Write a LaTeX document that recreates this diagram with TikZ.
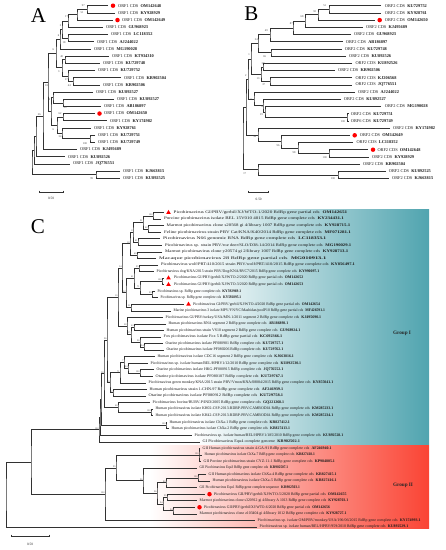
\documentclass[tikz,border=0pt]{standalone}
\usepackage{fontspec}
\setmainfont{Liberation Serif}
\usetikzlibrary{calc,shapes.geometric}
\definecolor{tealG}{RGB}{80,164,175}
\definecolor{redG}{RGB}{250,68,52}
\definecolor{trc}{RGB}{50,50,50}
\newcommand\accn[1]{\hspace{2.2pt}\textbf{#1}}
\newcommand\nd[4]{\path let \p1=(#3), \p2=(#4) in coordinate (#1) at (#2pt,{(\y1+\y2)*0.5});}
\newcommand\cl[4]{\nd{#1}{#2}{#3}{#4}\draw[tree] (#3) -| (#1) |- (#4);}
\newcommand\rA[1]{5.7+(#1-1)*7.19}
\newcommand\rB[1]{5.7+(#1-1)*7.2}
\newcommand\rC[1]{212.5+(#1-1)*6.55}
\newcommand\lfA[5]{\coordinate (#1) at (#3,{\rA{#2}});\node[labA] (t#1) at (#4,{\rA{#2}}) {#5};}
\newcommand\lfB[5]{\coordinate (#1) at (#3,{\rB{#2}});\node[labA] (t#1) at (#4,{\rB{#2}}) {#5};}
\newcommand\lfC[6]{\coordinate (#1) at (#3,{\rC{#2}});\node[labC] (t#1) at (#4,{\rC{#2}}) {\pgfmathsetmacro\wdC{#5-#4}\resizebox{\wdC pt}{\height}{#6}};}
\newcommand\bs[4]{\node[bsA] (#1) at (#2,#3) {#4};}
\newcommand\bsc[2]{\node[bsC] (b#1) at (#1) {#2};}
\newcommand\sbr[6]{\coordinate (#1l) at (#2,#4); \coordinate (#1r) at (#3,#4);
  \draw[sb] (#1l) -- (#1r);
  \draw[sb] ($(#1l)+(0,-1.3)$) -- ($(#1l)+(0,1.3)$);
  \draw[sb] ($(#1r)+(0,-1.3)$) -- ($(#1r)+(0,1.3)$);
  \node[sbl] (#1t) at (#5,#6) {0.50};}
\begin{document}
\begin{tikzpicture}[x=1pt,y=-1pt,
  tree/.style={draw=trc, line width=0.5pt},
  labA/.style={anchor=west, inner sep=0pt, font=\fontsize{4.35}{4.8}\selectfont, text=black!90},
  labC/.style={anchor=west, inner sep=0pt, font=\fontsize{3.9}{4.2}\selectfont, text=black!90},
  bsA/.style={inner sep=0pt, font=\fontsize{2.8}{3}\selectfont, text=black!75},
  bsC/.style={anchor=south east, inner sep=0.3pt, font=\fontsize{2.4}{2.6}\selectfont, text=black!75},
  dotm/.style={circle, fill=red, draw=none, inner sep=0pt, minimum size=4.5pt},
  trim/.style={regular polygon, regular polygon sides=3, fill=red, draw=none, inner sep=0pt, minimum size=5.2pt},
  sb/.style={draw=trc, line width=0.5pt},
  sbl/.style={inner sep=0pt, font=\fontsize{3.4}{4}\selectfont, text=black!85},
  letter/.style={inner sep=0pt, font=\fontsize{21}{21}\selectfont},
  grp/.style={inner sep=0pt, font=\fontsize{5.2}{6}\selectfont\bfseries, text=black!85}]
\useasboundingbox (0,0) rectangle (446,550);
% ---------- backgrounds of panel C ----------
\shade[left color=white, middle color=tealG!42, right color=tealG] (195,209) rectangle (429,444.3);
\shade[left color=white, middle color=redG!40, right color=redG] (150,445.6) rectangle (429,528.5);
% ---------- letters ----------
\node[letter] (LA) at (38.5,15.5) {A};
\node[letter] (LB) at (251.5,13.5) {B};
\node[letter] (LC) at (38,226.5) {C};
% ================= PANEL A =================
\lfA{a1}{1}{108}{118}{ORF1 CDS\accn{OM142648}}
\lfA{a2}{2}{115}{118}{ORF1 CDS\accn{KY928929}}
\lfA{a3}{3}{113}{122}{ORF1 CDS\accn{OM142649}}
\lfA{a4}{4}{103}{106}{ORF1 CDS\accn{GU968923}}
\lfA{a5}{5}{108}{111}{ORF1 CDS\accn{LC118352}}
\lfA{a6}{6}{94}{97}{ORF1 CDS\accn{AJ244022}}
\lfA{a7}{7}{91}{94}{ORF1 CDS\accn{MG190028}}
\lfA{a8}{8}{109}{112}{ORF1 CDS\accn{KT934310}}
\lfA{a9}{9}{100}{103}{ORF1 CDS\accn{KU729748}}
\lfA{a10}{10}{95}{98}{ORF1 CDS\accn{KU729752}}
\lfA{a11}{11}{121}{124}{ORF1 CDS\accn{KR902504}}
\lfA{a12}{12}{100}{103}{ORF1 CDS\accn{KR902506}}
\lfA{a13}{13}{93}{96}{ORF1 CDS\accn{KU892527}}
\lfA{a14}{14}{114}{117}{ORF1 CDS\accn{KU892527}}
\lfA{a15}{15}{101}{104}{ORF1 CDS\accn{AB186897}}
\lfA{a16}{16}{95}{104}{ORF1 CDS\accn{OM142650}}
\lfA{a17}{17}{107}{110}{ORF1 CDS\accn{KY174982}}
\lfA{a18}{18}{91}{94}{ORF1 CDS\accn{KY928761}}
\lfA{a19}{19}{95}{98}{ORF1 CDS\accn{KU729751}}
\lfA{a20}{20}{95}{98}{ORF1 CDS\accn{KU729749}}
\lfA{a21}{21}{77}{80}{ORF1 CDS\accn{KJ495689}}
\lfA{a22}{22}{65}{68}{ORF1 CDS\accn{KU892526}}
\lfA{a23}{23}{70}{73}{ORF1 CDS\accn{JQ776551}}
\lfA{a24}{24}{120}{123}{ORF1 CDS\accn{KJ663815}}
\lfA{a25}{25}{120}{123}{ORF1 CDS\accn{KU892525}}
\node[dotm] (da1) at (113,{\rA{1}}) {};
\node[dotm] (da3) at (117.5,{\rA{3}}) {};
\node[dotm] (da16) at (99.5,{\rA{16}}) {};
\cl{aN97}{87}{a1}{a2}
\cl{aN51}{77}{aN97}{a3}
\cl{aN17}{68}{aN51}{a4}
\cl{aN18}{68}{a5}{a6}
\cl{aN5}{62}{aN17}{aN18}
\cl{aN6a}{60}{aN5}{a7}
\cl{aN40}{65}{a8}{a9}
\cl{aN44}{73}{a11}{a12}
\cl{aN17b}{68}{a10}{aN44}
\cl{aN3}{62}{aN40}{aN17b}
\cl{aNU}{56}{aN6a}{aN3}
\cl{aN33}{63}{a14}{a15}
\cl{aN4}{53}{a13}{aN33}
\cl{aN62}{63}{a16}{a17}
\cl{aN100}{90}{a19}{a20}
\cl{aN34}{62}{a18}{aN100}
\cl{aN6L}{57}{aN62}{aN34}
\cl{aNL}{51}{aN4}{aN6L}
\cl{aN18b}{48}{aNU}{aNL}
\cl{aN26}{43}{aN18b}{a21}
\cl{aNk}{36}{aN26}{a22}
\cl{aNj}{34}{aNk}{a23}
\cl{aN99}{96}{a24}{a25}
\cl{aR}{32}{aNj}{aN99}
\bs{ba1}{83.3}{5.7}{97}
\bs{ba2}{82}{12.3}{51}
\bs{ba3}{66.5}{16.7}{17}
\bs{ba4}{60.5}{26}{5}
\bs{ba5}{58.5}{35.7}{6}
\bs{ba6}{64}{42.7}{18}
\bs{ba7}{53.3}{50}{6}
\bs{ba8}{61.7}{56.7}{40}
\bs{ba9}{58.7}{71.7}{3}
\bs{ba10}{66.3}{80}{17}
\bs{ba11}{69.3}{86}{44}
\bs{ba12}{46.5}{85.5}{18}
\bs{ba13}{49.3}{100}{4}
\bs{ba14}{65}{107.3}{33}
\bs{ba15}{60}{114}{62}
\bs{ba16}{53.3}{129.3}{6}
\bs{ba17}{60}{136.7}{34}
\bs{ba18}{85}{143.3}{100}
\bs{ba19}{39.3}{115}{26}
\bs{ba20}{91.7}{178.3}{99}
\sbr{sa}{39}{63}{192}{51}{198.5}
% ================= PANEL B =================
\lfB{b1}{1}{381}{384.7}{ORF2 CDS\accn{KU729752}}
\lfB{b2}{2}{381}{384.7}{ORF2 CDS\accn{KY928761}}
\lfB{b3}{3}{375}{384.7}{ORF2 CDS\accn{OM142650}}
\lfB{b4}{4}{363}{366}{ORF2 CDS\accn{KJ495689}}
\lfB{b5}{5}{351}{354}{ORF2 CDS\accn{GU968923}}
\lfB{b6}{6}{343}{345.7}{ORF2 CDS\accn{AB186897}}
\lfB{b7}{7}{342}{344.7}{ORF2 CDS\accn{KU729748}}
\lfB{b8}{8}{346}{349}{ORF2 CDS\accn{KU892526}}
\lfB{b9}{9}{352}{355.3}{ORF2 CDS\accn{KU892526}}
\lfB{b10}{10}{335}{338}{ORF2 CDS\accn{KR902506}}
\lfB{b11}{11}{352}{355.3}{ORF2 CDS\accn{KJ206568}}
\lfB{b12}{12}{352}{355.3}{ORF2 CDS\accn{JQ776551}}
\lfB{b13}{13}{355}{358}{ORF2 CDS\accn{AJ244022}}
\lfB{b14}{14}{341}{343.7}{ORF2 CDS\accn{KU892527}}
\lfB{b15}{15}{381}{384.7}{ORF2 CDS\accn{MG190028}}
\lfB{b16}{16}{348.5}{350.7}{ORF2 CDS\accn{KU729751}}
\lfB{b17}{17}{348.5}{350.7}{ORF6 CDS\accn{KU729749}}
\lfB{b18}{18}{390}{393}{ORF2 CDS\accn{KY174982}}
\lfB{b19}{19}{350}{359.7}{ORF2 CDS\accn{OM142649}}
\lfB{b20}{20}{353}{356.3}{ORF2 CDS\accn{LC118352}}
\lfB{b21}{21}{368}{377.3}{ORF2 CDS\accn{OM142648}}
\lfB{b22}{22}{369}{372}{ORF2 CDS\accn{KY928929}}
\lfB{b23}{23}{360}{363}{ORF2 CDS\accn{KR902504}}
\lfB{b24}{24}{386}{388.7}{ORF2 CDS\accn{KU892525}}
\lfB{b25}{25}{389}{392}{ORF2 CDS\accn{KJ663815}}
\node[dotm] (db3) at (379.7,{\rB{3}}) {};
\node[dotm] (db19) at (354.7,{\rB{19}}) {};
\node[dotm] (db21) at (373,{\rB{21}}) {};
\cl{bN51}{329}{b1}{b2}
\cl{bN92}{318}{bN51}{b3}
\cl{bN68}{305}{bN92}{b4}
\cl{bN87}{293}{bN68}{b5}
\cl{bN49}{270}{bN87}{b6}
\cl{bN65}{271}{b7}{b8}
\cl{bN24}{258}{bN49}{bN65}
\cl{bN39}{263}{b9}{b10}
\cl{bN37}{270}{b11}{b12}
\cl{bN13}{261}{bN39}{bN37}
\cl{bN1}{251}{bN24}{bN13}
\cl{bN100}{347}{b16}{b17}
\cl{bN19}{265}{b15}{bN100}
\cl{bN8}{263}{b14}{bN19}
\cl{bN5}{254}{b13}{bN8}
\cl{bN2}{248}{bN1}{bN5}
\cl{bN100c}{329}{b21}{b22}
\cl{bN98}{298}{b20}{bN100c}
\cl{bN96}{281}{b19}{bN98}
\cl{bN54}{258}{b18}{bN96}
\cl{bNm}{246}{bN2}{bN54}
\cl{bN100d}{338}{b24}{b25}
\cl{bN17}{258}{b23}{bN100d}
\cl{bR}{243}{bNm}{bN17}
\bs{bb1}{324.7}{5.7}{51}
\bs{bb2}{314.7}{11.7}{92}
\bs{bb3}{302}{16.7}{68}
\bs{bb4}{291.3}{24}{87}
\bs{bb5}{266.3}{31}{49}
\bs{bb6}{256.3}{40}{24}
\bs{bb7}{264.7}{56.7}{65}
\bs{bb8}{249}{55}{1}
\bs{bb9}{263}{63.3}{39}
\bs{bb10}{258}{78.3}{13}
\bs{bb11}{263.7}{85}{37}
\bs{bb12}{245.7}{76}{2}
\bs{bb13}{251.3}{99.3}{5}
\bs{bb14}{262.3}{106.7}{8}
\bs{bb15}{261.3}{115}{19}
\bs{bb16}{343}{121.7}{100}
\bs{bb17}{254.7}{136.7}{54}
\bs{bb18}{278}{145.7}{96}
\bs{bb19}{294}{152.7}{98}
\bs{bb20}{324.7}{157.3}{100}
\bs{bb21}{244.7}{173.3}{17}
\bs{bb22}{333}{179}{100}
\sbr{sb}{248.7}{268.7}{192}{258.7}{199}
% ================= PANEL C =================
\lfC{c1}{1}{164}{173.5}{347}{Picobirnavirus GI/PBV/gerbil/XJ/WTO-1/2020 RdRp gene partial cds\accn{OM142651}}
\lfC{c2}{2}{161}{164}{343.7}{Porcine picobirnavirus isolate BEL 15V010 4015 RdRp gene complete cds\accn{KY234431.1}}
\lfC{c3}{3}{164}{166.5}{350}{Marmot picobirnavirus clone s20568 gi 4/library 1007 RdRp gene complete cds\accn{KY928715.1}}
\lfC{c4}{4}{161}{164}{350.7}{Feline picobirnavirus strain PBV Cat/KNA/K40/2014 RdRp gene complete cds\accn{MF071281.1}}
\lfC{c5}{5}{160}{163}{326}{Picobirnavirus N66 genomic RNA RdRp gene complete cds\accn{LC118353.1}}
\lfC{c6}{6}{162}{165}{351}{Picobirnavirus sp. strain PBV/roe deer/SLO/D38-14/2014 RdRp gene complete cds\accn{MG190029.1}}
\lfC{c7}{7}{162}{165}{348}{Marmot picobirnavirus clone y20574 gi 2/library 1007 RdRp gene complete cds\accn{KY928713.1}}
\lfC{c8}{8}{156}{159}{326}{Macaque picobirnavirus 28 RdRp gene partial cds\accn{MG010913.1}}
\lfC{c9}{9}{158}{161}{354.7}{Picobirnavirus wolf/PRT/410/2015 strain PBV/wolf/PRT/410/2015 RdRp gene complete cds\accn{KY856497.1}}
\lfC{c10}{10}{154}{156.5}{319}{Picobirnavirus dog/KNA/2015 strain PBV/Dog/KNA/RVC7/2015 RdRp gene complete cds\accn{KY990097.1}}
\lfC{c11}{11}{164}{174}{303}{Picobirnavirus GI/PBV/gerbil/XJ/WTO-2/2020 RdRp gene partial cds\accn{OM142652}}
\lfC{c12}{12}{164}{174}{303}{Picobirnavirus GI/PBV/gerbil/XJ/WTO-3/2020 RdRp gene partial cds\accn{OM142653}}
\lfC{c13}{13}{155}{157.5}{241}{Picobirnavirus sp. RdRp gene complete cds\accn{KY592969.1}}
\lfC{c14}{14}{158}{160.5}{241}{Picobirnavirus sp. RdRp gene complete cds\accn{KY592895.1}}
\lfC{c15}{15}{184}{193}{319.7}{Picobirnavirus GI/PBV/gerbil/XJ/WTO-4/2020 RdRp gene partial cds\accn{OM142654}}
\lfC{c16}{16}{171}{173.5}{324.7}{Marine picobirnavirus 3 isolate MPV/YN/YC/Mashidan/poolP10 RdRp gene partial cds\accn{MF426591.1}}
\lfC{c17}{17}{163}{165.5}{321}{Picobirnavirus GI/PBV/turkey/USA/MN-1/2011 segment 2 RdRp gene complete cds\accn{KJ495690.1}}
\lfC{c18}{18}{166}{168.5}{288}{Human picobirnavirus RNA segment 2 RdRp gene complete cds\accn{AB186898.1}}
\lfC{c19}{19}{164}{166.5}{300}{Human picobirnavirus strain VS10 segment 2 RdRp gene complete cds\accn{GU968924.1}}
\lfC{c20}{20}{161}{163.5}{282}{Fox picobirnavirus isolate Fox 5 RdRp gene partial cds\accn{KC692366.1}}
\lfC{c21}{21}{163}{165.5}{283}{Otarine picobirnavirus isolate PF080901 RdRp complete cds\accn{KU729757.1}}
\lfC{c22}{22}{164}{166.5}{283}{Otarine picobirnavirus isolate PF080206 RdRp complete cds\accn{KU729762.1}}
\lfC{c23}{23}{155}{157.5}{293.7}{Human picobirnavirus isolate CDC16 segment 2 RdRp gene complete cds\accn{KJ663816.1}}
\lfC{c24}{24}{148}{150.5}{301}{Picobirnavirus sp. isolate human/BEL/HPBV1/12/2010 RdRp gene complete cds\accn{KU892530.1}}
\lfC{c25}{25}{154}{156.5}{283}{Otarine picobirnavirus isolate HKG-PF080915 RdRp complete cds\accn{JQ776552.1}}
\lfC{c26}{26}{153}{155.5}{283}{Otarine picobirnavirus isolate PF080107 RdRp complete cds\accn{KU729767.1}}
\lfC{c27}{27}{146}{148.5}{333}{Picobirnavirus green monkey/KNA/2015 strain PBV/Vmon/KNA/08084/2015 RdRp gene complete cds\accn{KY855041.1}}
\lfC{c28}{28}{147}{149.5}{283}{Human picobirnavirus strain 1-CHN-97 RdRp gene complete cds\accn{AF246939.1}}
\lfC{c29}{29}{146}{148.5}{283}{Otarine picobirnavirus isolate PF080912 RdRp complete cds\accn{KU729758.1}}
\lfC{c30}{30}{150}{152.5}{284}{Picobirnavirus bovine/BUBV-P/IND/2005 RdRp gene complete cds\accn{GQ221268.1}}
\lfC{c31}{31}{153}{155.5}{333}{Human picobirnavirus isolate KH02-CSP-2013-RDRP-PBV-CAMBODIA RdRp gene complete cds\accn{KM285233.1}}
\lfC{c32}{32}{153}{155.5}{333}{Human picobirnavirus isolate KH42-CSP-2013-RDRP-PBV-CAMBODIA RdRp gene complete cds\accn{KM285234.1}}
\lfC{c33}{33}{167}{169.5}{289.7}{Human picobirnavirus isolate ChXa-1 RdRp gene complete cds\accn{KR827412.1}}
\lfC{c34}{34}{169}{171.5}{289.7}{Human picobirnavirus isolate ChXa-2 RdRp gene complete cds\accn{KR827413.1}}
\lfC{c35}{35}{192}{194.5}{343}{Picobirnavirus sp. isolate human/BEL/HPBV1/185/2010 RdRp gene complete cds\accn{KU892528.1}}
\lfC{c36}{36}{200}{202.5}{299.7}{GI Picobirnavirus Equ4 complete genome\accn{KR902502.1}}
\lfC{c37}{37}{200}{202.5}{331.3}{GII Human picobirnavirus strain 4-GA-91 RdRp gene complete cds\accn{AF246940.1}}
\lfC{c38}{38}{202}{204.5}{314.7}{Human picobirnavirus isolate ChXa-7 RdRp gene complete cds\accn{KR827418.1}}
\lfC{c39}{39}{201}{203.5}{334.7}{GII Porcine picobirnavirus strain CYZ-11-1 RdRp gene complete cds\accn{KP984805.1}}
\lfC{c40}{40}{197}{199.5}{288}{GII Picobirnavirus Equ3 RdRp gene complete cds\accn{KR902507.1}}
\lfC{c41}{41}{206}{208.5}{336.3}{GII Human picobirnavirus isolate ChXa-4 RdRp gene complete cds\accn{KR827415.1}}
\lfC{c42}{42}{210}{212.5}{336.3}{Human picobirnavirus isolate ChXa-5 RdRp gene complete cds\accn{KR827416.1}}
\lfC{c43}{43}{197}{199.5}{299.7}{GII Picobirnavirus Equ1 RdRp gene complete sequence\accn{KR902503.1}}
\lfC{c44}{44}{205}{214}{346.3}{Picobirnavirus GII/PBV/gerbil/XJ/WTO-5/2020 RdRp gene partial cds\accn{OM142655}}
\lfC{c45}{45}{197}{199.5}{348}{Marmot picobirnavirus clone s320912 gi 4/library A 1013 RdRp gene complete cds\accn{KY928703.1}}
\lfC{c46}{46}{195}{204}{329.7}{Picobirnavirus GII/PBV/gerbil/XJ/WTO-6/2020 RdRp gene partial cds\accn{OM142656}}
\lfC{c47}{47}{197}{199.5}{346.3}{Marmot picobirnavirus clone z103404 gi 4/library 1012 RdRp gene complete cds\accn{KY928727.1}}
\lfC{c48}{48}{255}{257.5}{420.3}{Picobirnavirus sp. isolate OM/PBV/monkey/USA/196/06/2015 RdRp gene complete cds\accn{KY174993.1}}
\lfC{c49}{49}{257}{259.5}{408}{Picobirnavirus sp. isolate human/BEL/HPBV/959/2010 RdRp gene complete cds\accn{KU892529.1}}
\node[trim] (mc1) at (168.5,{\rC{1}}) {};
\node[trim] (mc11) at (168.5,{\rC{11}}) {};
\node[trim] (mc12) at (168.5,{\rC{12}}) {};
\node[trim] (mc15) at (188.5,{\rC{15}}) {};
\node[dotm] (mc44) at (209.5,{\rC{44}}) {};
\node[dotm] (mc46) at (199.5,{\rC{46}}) {};
% Group I
\cl{n12}{153}{c1}{c2}
\cl{n34}{148}{c3}{c4}
\cl{n14}{143}{n12}{n34}
\cl{n56}{138}{c5}{c6}
\cl{n16}{133}{n14}{n56}
\cl{n78}{137}{c7}{c8}
\cl{n18}{130}{n16}{n78}
\cl{n910}{139}{c9}{c10}
\cl{n1112}{162}{c11}{c12}
\cl{n1314}{152}{c13}{c14}
\cl{n1114}{140}{n1112}{n1314}
\cl{n914}{134}{n910}{n1114}
\cl{n1516}{131}{c15}{c16}
\cl{n916}{126}{n914}{n1516}
\cl{nA}{122}{n18}{n916}
\cl{n1819}{134}{c18}{c19}
\cl{n2122}{144}{c21}{c22}
\cl{n2022}{140}{c20}{n2122}
\cl{n1822}{131}{n1819}{n2022}
\cl{n1722}{127}{c17}{n1822}
\cl{nB}{118}{nA}{n1722}
\cl{n2526}{140}{c25}{c26}
\cl{n2426}{128}{c24}{n2526}
\cl{n2326}{124}{c23}{n2426}
\cl{n2327}{120}{n2326}{c27}
\cl{n2829}{113}{c28}{c29}
\cl{n2329}{110}{n2327}{n2829}
\cl{nC}{107}{nB}{n2329}
\cl{n3132}{151}{c31}{c32}
\cl{n3032}{118}{c30}{n3132}
\cl{nD}{104}{nC}{n3032}
\cl{n3334}{166}{c33}{c34}
\cl{nE}{101}{nD}{n3334}
\cl{nF}{100}{nE}{c35}
\cl{nG}{99}{nF}{c36}
% Group II
\cl{n3739}{199}{c37}{c39}
\draw[tree] (n3739) |- (c38);
\cl{n4142}{198}{c41}{c42}
\cl{n4143}{166}{n4142}{c43}
\cl{n4445}{167}{c44}{c45}
\cl{n4647}{173}{c46}{c47}
\cl{n4447}{163}{n4445}{n4647}
\cl{n4147}{157}{n4143}{n4447}
\cl{n4047}{143}{c40}{n4147}
\cl{n3747}{116}{n3739}{n4047}
\cl{n3748}{105}{n3747}{c48}
\cl{nTop}{31}{nG}{n3748}
\cl{nRoot}{6}{nTop}{c49}
% bootstrap values C
\bsc{n12}{100}\bsc{n34}{62}\bsc{n14}{91}\bsc{n56}{41}\bsc{n16}{8}
\bsc{n78}{49}\bsc{n18}{18}\bsc{n910}{95}\bsc{n1112}{100}\bsc{n1314}{99}
\bsc{n1114}{71}\bsc{n914}{41}\bsc{n1516}{31}\bsc{n916}{12}\bsc{nA}{34}
\bsc{n1819}{63}\bsc{n2122}{54}\bsc{n2022}{96}\bsc{n1822}{15}\bsc{n1722}{28}
\bsc{nB}{10}\bsc{n2526}{100}\bsc{n2426}{24}\bsc{n2326}{7}\bsc{n2327}{71}
\bsc{n2829}{52}\bsc{n2329}{39}\bsc{nC}{96}\bsc{n3132}{100}\bsc{n3032}{60}
\bsc{nD}{58}\bsc{n3334}{100}\bsc{nG}{100}
\bsc{n3739}{100}\bsc{n4142}{100}\bsc{n4143}{80}\bsc{n4445}{95}\bsc{n4647}{94}
\bsc{n4447}{94}\bsc{n4147}{96}\bsc{n4047}{96}\bsc{n3747}{95}\bsc{n3748}{100}
\node[grp] (g1) at (402,333) {Group I};
\node[grp] (g2) at (403,485) {Group II};
\sbr{sc}{11.7}{49.3}{536}{30}{544}
\end{tikzpicture}
\end{document}
